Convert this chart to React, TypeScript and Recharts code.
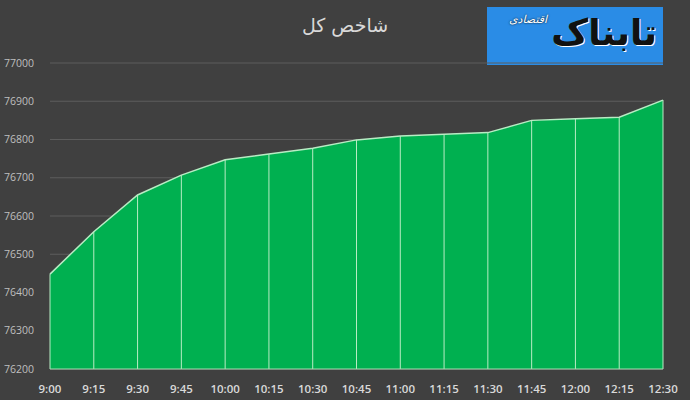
import {
  AreaChart,
  Area,
  XAxis,
  YAxis,
  CartesianGrid,
  ReferenceLine,
} from "recharts";

const times = [
  "9:00", "9:15", "9:30", "9:45", "10:00", "10:15", "10:30", "10:45",
  "11:00", "11:15", "11:30", "11:45", "12:00", "12:15", "12:30",
];
const indexValues = [
  76448, 76559, 76655, 76707, 76747, 76762, 76777, 76799,
  76809, 76814, 76818, 76850, 76854, 76858, 76903,
];
const yTicks = [76200, 76300, 76400, 76500, 76600, 76700, 76800, 76900, 77000];
const title = "شاخص کل";
const logoMain = "تابناک";
const logoSub = "اقتصادی";

const data = times.map((t, i) => ({ time: t, value: indexValues[i] }));

export default function App() {
  return (
    <div
      style={{
        position: "fixed",
        left: 0,
        top: 0,
        width: 690,
        height: 400,
        background: "#404040",
        overflow: "hidden",
      }}
    >
      <div
        style={{
          position: "absolute",
          left: 200,
          width: 290,
          top: 14,
          textAlign: "center",
          fontFamily: "DejaVu Sans, sans-serif",
          fontSize: 19,
          color: "#d9d9d9",
          direction: "rtl",
        }}
      >
        {title}
      </div>
      <div
        style={{
          position: "absolute",
          left: 487,
          top: 7,
          width: 176,
          height: 58,
          background: "#2a8ce6",
          direction: "rtl",
          fontFamily: "DejaVu Sans, sans-serif",
          color: "#111",
        }}
      >
        <span
          style={{
            position: "absolute",
            right: 6,
            top: 4,
            fontSize: 36,
            fontWeight: "bold",
            lineHeight: "44px",
            textShadow: "1px 1px 0 #fff",
          }}
        >
          {logoMain}
        </span>
        <span
          style={{
            position: "absolute",
            left: 22,
            top: 6,
            fontSize: 11,
            fontStyle: "italic",
            color: "#fff",
            textShadow: "0 0 2px #000",
          }}
        >
          {logoSub}
        </span>
      </div>
      <AreaChart
        width={690}
        height={400}
        data={data}
        margin={{ top: 63, right: 27, left: 0, bottom: 6 }}
        style={{ position: "absolute", left: 0, top: 0 }}
      >
        <CartesianGrid vertical={false} stroke="#5c5c5c" strokeWidth={1} />
        <XAxis
          dataKey="time"
          tickLine={false}
          axisLine={{ stroke: "#a8dcb3" }}
          tickMargin={10}
          height={25}
          interval={0}
          tick={{
            fill: "#d9d9d9",
            fontSize: 11.5,
            fontWeight: 600,
            fontFamily: "Open Sans, sans-serif",
          }}
        />
        <YAxis
          type="number"
          domain={[76200, 77000]}
          ticks={yTicks}
          width={50}
          tickLine={false}
          axisLine={false}
          tickMargin={10}
          tick={{
            fill: "#bfbfbf",
            fontSize: 10.5,
            fontFamily: "Open Sans, sans-serif",
          }}
        />
        <Area
          type="linear"
          dataKey="value"
          baseValue={76200}
          fill="#00b050"
          fillOpacity={1}
          stroke="#b8ecc4"
          strokeWidth={1.5}
          dot={false}
          activeDot={false}
          isAnimationActive={false}
        />
        {data.map((d) => (
          <ReferenceLine
            key={d.time}
            segment={[
              { x: d.time, y: 76200 },
              { x: d.time, y: d.value },
            ]}
            stroke="#b8ecc4"
            strokeWidth={1}
          />
        ))}
      </AreaChart>
    </div>
  );
}
